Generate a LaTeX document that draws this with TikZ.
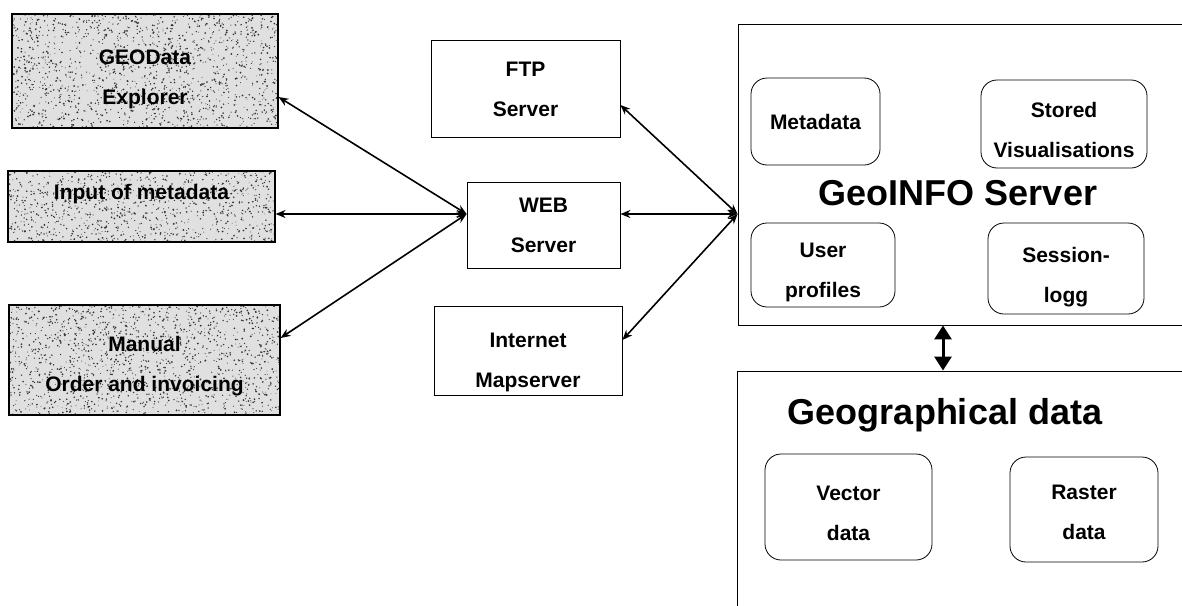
\documentclass[tikz,border=0pt]{standalone}
\usepackage{fontspec}
\setmainfont{Liberation Sans}
\usetikzlibrary{arrows.meta,calc,backgrounds}

\newcommand\lblfont{\fontsize{21}{40}\selectfont\bfseries}
\newcommand\paneltitlefont{\fontsize{36}{40}\selectfont\bfseries}

% stippled grey texture for the client boxes: #1 node, #2 width, #3 height, #4 dots
\newcommand\speckle[4]{%
  \begin{scope}[on background layer]
    \fill[black!12] (#1.north west) rectangle (#1.south east);
    \begin{scope}
      \clip (#1.north west) rectangle (#1.south east);
      \begin{scope}[shift={(#1.north west)}]
        \foreach \k in {1,...,#4}{
          \fill[black!80] ({rnd*#2},{rnd*#3}) circle ({0.4+0.6*rnd});
        }
      \end{scope}
    \end{scope}
  \end{scope}}

\begin{document}
\begin{tikzpicture}[x=1pt,y=-1pt,
    client/.style={draw,line width=1.1pt,inner sep=0pt,align=center,font=\lblfont},
    server/.style={draw,line width=0.8pt,inner sep=0pt,align=center,font=\lblfont},
    panel/.style={draw,line width=0.9pt,inner sep=0pt},
    store/.style={draw,line width=0.8pt,rounded corners=16pt,inner sep=0pt,align=center,font=\lblfont},
    title/.style={inner sep=0pt,font=\paneltitlefont,text depth=0pt},
    twoline/.style={text height=#1,text depth=0pt},
    link/.style={line width=1.6pt,{Stealth[length=10pt,width=8pt]}-{Stealth[length=10pt,width=8pt]}},
    bigarr/.style={line width=3pt,{Triangle[length=14pt,width=17pt]}-{Triangle[length=14pt,width=17pt]}}]

  \useasboundingbox (0,0) rectangle (1182,605);
  \clip (0,0) rectangle (1182,605);
  \pgfmathsetseed{4242}

  % client applications
  \node[client,minimum width=266,minimum height=114,twoline=67pt] (geo) at (145,71) {GEOData\\Explorer};
  \node[client,minimum width=267,minimum height=71,text height=15pt,text depth=29pt] (inp) at (141.5,206.5) {Input of metadata};
  \node[client,minimum width=271,minimum height=110,twoline=63pt] (man) at (144.5,360) {Manual\\Order and invoicing};
  \speckle{geo}{266}{114}{1500}
  \speckle{inp}{267}{71}{950}
  \speckle{man}{271}{110}{1500}

  % middle tier servers
  \node[server,minimum width=189,minimum height=97,twoline=55pt] (ftp) at (525.5,88.5) {FTP\\Server};
  \node[server,minimum width=153,minimum height=86,twoline=55pt] (web) at (543.5,225) {WEB\\Server};
  \node[server,minimum width=188,minimum height=89,twoline=73pt] (map) at (528,350.5) {Internet\\Mapserver};

  % GeoINFO server panel (open to the right)
  \node[panel,minimum width=462,minimum height=301] (gis) at (969,174.5) {};
  \node[title] (gistitle) at (958,193) {GeoINFO Server};
  \node[store,minimum width=129,minimum height=87] (meta) at (815.5,121.5) {Metadata};
  \node[store,minimum width=166,minimum height=88,twoline=67pt] (stored) at (1064,124) {Stored\\Visualisations};
  \node[store,minimum width=144,minimum height=84,twoline=65pt] (user) at (823,265) {User\\profiles};
  \node[store,minimum width=156,minimum height=91,twoline=67pt] (sess) at (1066,268.5) {Session-\\logg};

  % geographical data panel (open to the right and below)
  \node[panel,minimum width=463,minimum height=269] (gd) at (968.5,505.5) {};
  \node[title] (gdtitle) at (945,411) {Geographical data};
  \node[store,minimum width=167,minimum height=106,twoline=67pt] (vec) at (848.5,507) {Vector\\data};
  \node[store,minimum width=148,minimum height=105,twoline=59pt] (ras) at (1084,509.5) {Raster\\data};

  % connection points
  \coordinate (wl) at ($(web.west)+(0,-11)$);
  \coordinate (gw) at (gis.west |- wl);
  \coordinate (vx) at (943,0);

  % client <-> web server
  \draw[link] (wl) -- ($(geo.east)+(0,26)$);
  \draw[link] (wl) -- (inp.east |- wl);
  \draw[link] (wl) -- ($(man.east)+(0,-22)$);

  % GeoINFO server <-> middle tier
  \draw[link] (gw) -- ($(ftp.east)+(0,16.5)$);
  \draw[link] (gw) -- (web.east |- wl);
  \draw[link] (gw) -- ($(map.east)+(0,-10.5)$);

  % GeoINFO server <-> geographical data
  \draw[bigarr] (gis.south -| vx) -- (gd.north -| vx);
\end{tikzpicture}
\end{document}
